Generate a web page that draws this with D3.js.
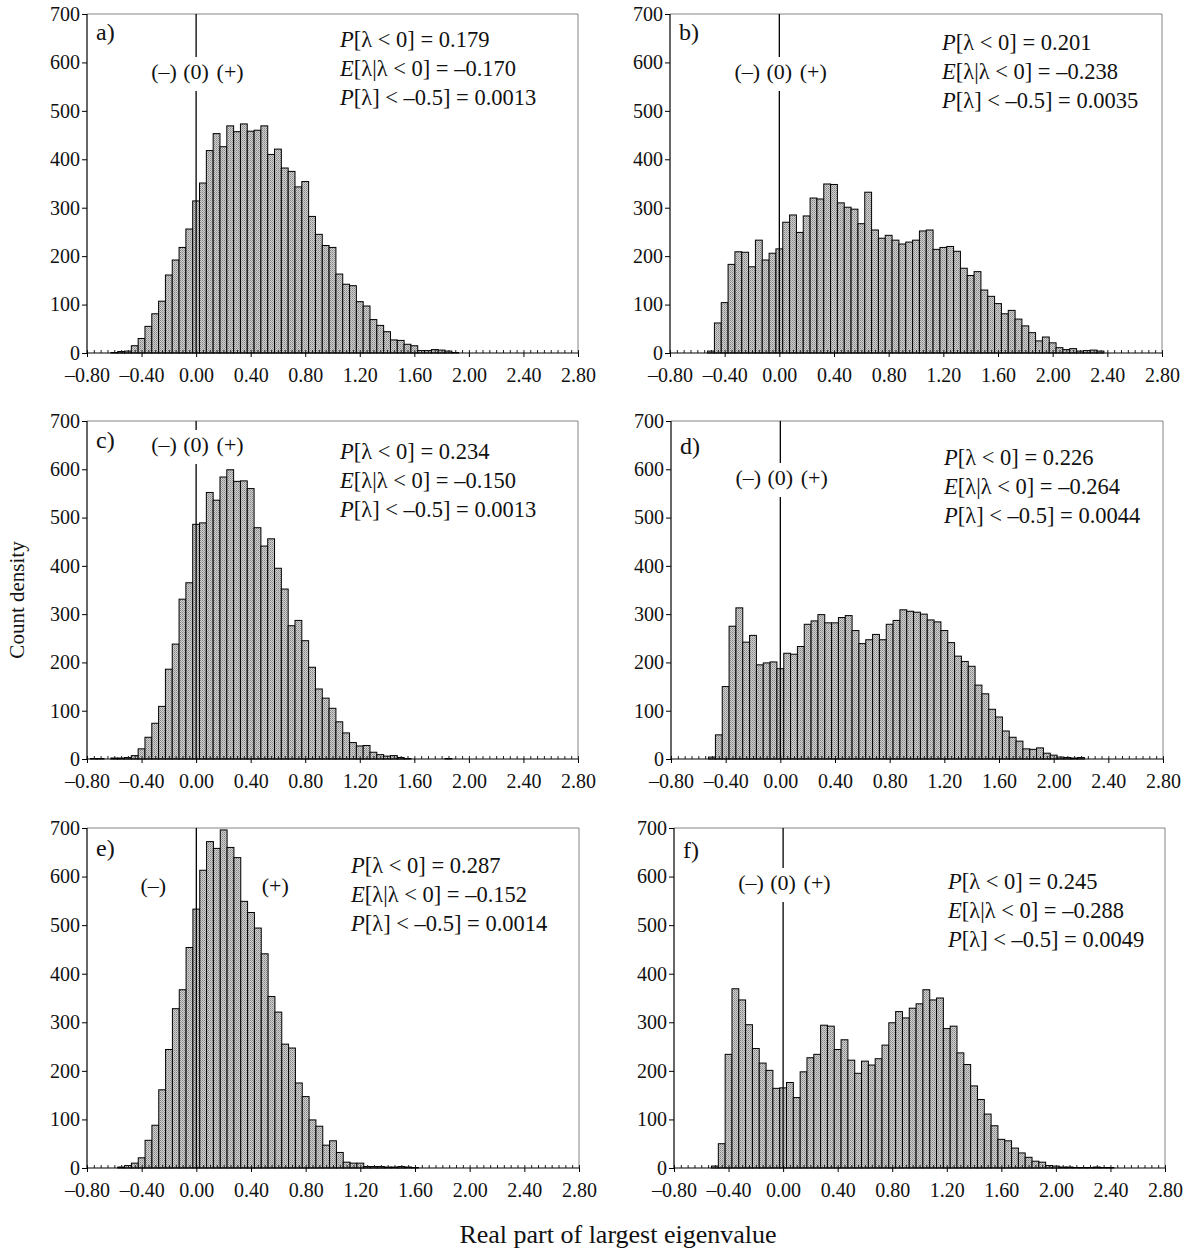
<!DOCTYPE html>
<html>
<head>
<meta charset="utf-8">
<script src="https://cdn.jsdelivr.net/npm/d3@7/dist/d3.min.js"></script>
<style>
body { margin: 0; background: #fff; }
text { font-family: "Liberation Serif", "Times New Roman", serif; fill: #111; }
</style>
</head>
<body>
<svg id="chart" width="1193" height="1249"></svg>
<script>
// bin centres run from -0.80 to 2.80 in steps of 0.05 (73 bins)
var binStart = -0.80, binWidth = 0.05;
var xTickValues = [-0.8, -0.4, 0, 0.4, 0.8, 1.2, 1.6, 2.0, 2.4, 2.8];
var xTickLabels = ['\u20130.80', '\u20130.40', '0.00', '0.40', '0.80', '1.20', '1.60', '2.00', '2.40', '2.80'];
var yTickValues = [0, 100, 200, 300, 400, 500, 600, 700];

var countsA = [0, 0, 0, 0, 1, 3, 4, 15, 30, 55, 81, 107, 161, 192, 218, 256,
    314, 351, 418, 453, 426, 469, 457, 473, 458, 460, 469, 410, 421, 382, 375, 343,
    354, 282, 245, 222, 218, 163, 142, 139, 106, 97, 69, 57, 44, 27, 26, 18,
    15, 5, 5, 7, 6, 4, 1, 0, 0, 0, 0, 0, 0, 0, 0, 0,
    0, 0, 0, 0, 0, 0, 0, 0, 0];
var countsB = [0, 0, 0, 0, 0, 0, 4, 62, 104, 183, 209, 208, 178, 233, 192, 206,
    215, 270, 285, 249, 283, 320, 318, 349, 348, 310, 301, 297, 267, 332, 254, 237,
    243, 233, 225, 229, 233, 252, 254, 214, 218, 220, 210, 175, 160, 168, 130, 117,
    102, 81, 88, 70, 56, 42, 25, 33, 21, 11, 7, 9, 4, 5, 6, 4,
    0, 0, 0, 0, 0, 0, 0, 0, 0];
var countsC = [0, 1, 1, 0, 2, 2, 3, 7, 21, 45, 74, 109, 186, 238, 331, 365,
    486, 489, 552, 536, 584, 599, 575, 576, 560, 479, 441, 456, 395, 352, 276, 287,
    245, 190, 145, 126, 105, 77, 54, 34, 27, 28, 14, 9, 6, 7, 3, 1,
    0, 0, 0, 0, 0, 1, 0, 0, 0, 0, 0, 0, 0, 0, 0, 0,
    0, 0, 0, 0, 0, 0, 0, 0, 0];
var countsD = [0, 0, 0, 0, 0, 0, 4, 50, 150, 275, 313, 242, 256, 195, 199, 201,
    187, 219, 217, 233, 279, 286, 299, 282, 282, 293, 297, 266, 239, 247, 258, 247,
    279, 287, 309, 306, 304, 300, 288, 284, 266, 241, 213, 202, 192, 153, 135, 103,
    87, 58, 45, 37, 21, 20, 23, 12, 8, 4, 3, 2, 3, 0, 0, 0,
    0, 0, 0, 0, 0, 0, 0, 0, 0];
var countsE = [0, 0, 0, 0, 0, 2, 5, 10, 21, 57, 88, 161, 244, 328, 367, 454,
    533, 613, 672, 658, 696, 660, 639, 549, 526, 494, 441, 353, 321, 255, 247, 175,
    147, 99, 86, 47, 56, 32, 12, 10, 10, 3, 3, 3, 2, 2, 3, 2,
    1, 0, 0, 0, 0, 0, 0, 0, 0, 0, 0, 0, 0, 0, 0, 0,
    0, 0, 0, 0, 0, 0, 0, 0, 0];
var countsF = [0, 0, 0, 0, 0, 0, 4, 50, 234, 369, 346, 295, 246, 216, 201, 164,
    165, 176, 145, 198, 227, 234, 294, 292, 244, 264, 222, 195, 220, 212, 225, 253,
    299, 322, 309, 329, 338, 367, 346, 350, 287, 292, 237, 213, 169, 141, 111, 87,
    59, 56, 41, 31, 22, 14, 12, 5, 4, 2, 2, 1, 1, 1, 2, 1,
    1, 0, 0, 0, 0, 0, 0, 0, 0];

var panelLetters = ['a)', 'b)', 'c)', 'd)', 'e)', 'f)'];
var probNeg = ['0.179', '0.201', '0.234', '0.226', '0.287', '0.245'];
var expNeg = ['\u20130.170', '\u20130.238', '\u20130.150', '\u20130.264', '\u20130.152', '\u20130.288'];
var probBelow = ['0.0013', '0.0035', '0.0013', '0.0044', '0.0014', '0.0049'];
var allCounts = [countsA, countsB, countsC, countsD, countsE, countsF];

// where each panel sits on the page
var layout = [
    { left : 87, right : 578, top : 14, bottom : 353, statsX : 340, statsY : 47, signY : 72, zeroLabel : true, letterY : 40 },
    { left : 670, right : 1162, top : 14, bottom : 353, statsX : 942, statsY : 50, signY : 72, zeroLabel : true, letterY : 40 },
    { left : 87, right : 578, top : 421, bottom : 759, statsX : 340, statsY : 459, signY : 445, zeroLabel : true, letterY : 448 },
    { left : 671, right : 1163, top : 421, bottom : 759, statsX : 944, statsY : 465, signY : 478, zeroLabel : true, letterY : 454 },
    { left : 87, right : 579, top : 828, bottom : 1168, statsX : 351, statsY : 873, signY : 886, zeroLabel : false, letterY : 856 },
    { left : 674, right : 1165, top : 828, bottom : 1168, statsX : 948, statsY : 889, signY : 883, zeroLabel : true, letterY : 858 }
];

var svg = d3.select('#chart');

var defs = svg.append('defs');
var pat = defs.append('pattern').attr('id', 'stipple').attr('patternUnits', 'userSpaceOnUse')
    .attr('width', 2).attr('height', 2);
pat.append('rect').attr('width', 2).attr('height', 2).attr('fill', '#d0d0d0');
pat.append('rect').attr('width', 1).attr('height', 1).attr('fill', '#858585');
pat.append('rect').attr('x', 1).attr('y', 1).attr('width', 1).attr('height', 1).attr('fill', '#a2a2a2');

function drawPanel(i) {
    var p = layout[i];
    var counts = allCounts[i];
    var x = d3.scaleLinear().domain([-0.8, 2.8]).range([p.left, p.right]);
    var y = d3.scaleLinear().domain([0, 700]).range([p.bottom, p.top]);
    var g = svg.append('g');

    var bins = counts.map(function(v, k) {
        return { c : binStart + binWidth * k, v : v };
    });

    g.selectAll('rect.bar').data(bins.filter(function(d) { return d.v > 0; }))
        .enter().append('rect').attr('class', 'bar')
        .attr('x', function(d) { return x(d.c - binWidth / 2); })
        .attr('width', x(binWidth) - x(0))
        .attr('y', function(d) { return y(d.v); })
        .attr('height', function(d) { return y(0) - y(d.v); })
        .attr('fill', 'url(#stipple)')
        .attr('stroke', '#000').attr('stroke-width', 1);

    // frame: light top / right, dark axes
    g.append('path').attr('d', 'M' + p.left + ',' + p.top + 'H' + p.right + 'V' + p.bottom)
        .attr('fill', 'none').attr('stroke', '#666').attr('stroke-width', 0.8);

    // minor ticks every bin, pointing up into the plot
    var minor = d3.axisBottom(x).tickValues(bins.map(function(d) { return d.c; }))
        .tickSize(-3).tickFormat('');
    var gm = g.append('g').attr('transform', 'translate(0,' + p.bottom + ')').call(minor);
    gm.select('.domain').remove();
    gm.selectAll('line').attr('stroke', '#222');

    var xAxis = d3.axisBottom(x).tickValues(xTickValues).tickSize(4).tickPadding(11)
        .tickFormat(function(d, j) { return xTickLabels[j]; });
    var gx = g.append('g').attr('transform', 'translate(0,' + p.bottom + ')').call(xAxis);
    gx.select('.domain').attr('d', 'M' + p.left + ',0H' + p.right).attr('stroke', '#000').attr('stroke-width', 1.2);
    gx.selectAll('text').attr('font-size', 20).attr('font-family', '"Liberation Serif", serif').attr('fill', '#111');

    var yAxis = d3.axisLeft(y).tickValues(yTickValues).tickSize(5).tickPadding(2);
    var gy = g.append('g').attr('transform', 'translate(' + p.left + ',0)').call(yAxis);
    gy.select('.domain').attr('d', 'M0,' + p.top + 'V' + p.bottom).attr('stroke', '#000').attr('stroke-width', 1.2);
    gy.selectAll('text').attr('font-size', 20).attr('font-family', '"Liberation Serif", serif').attr('fill', '#111');

    // zero line, broken where the (0) label sits
    var x0 = x(0);
    if (p.zeroLabel) {
        g.append('line').attr('x1', x0).attr('x2', x0).attr('y1', p.top).attr('y2', p.signY - 15)
            .attr('stroke', '#000').attr('stroke-width', 1.3);
        g.append('line').attr('x1', x0).attr('x2', x0).attr('y1', p.signY + 19).attr('y2', p.bottom)
            .attr('stroke', '#000').attr('stroke-width', 1.3);
        g.append('text').attr('x', x0 - 32).attr('y', p.signY + 7).attr('text-anchor', 'middle').attr('font-size', 22).text('(\u2013)');
        g.append('text').attr('x', x0).attr('y', p.signY + 7).attr('text-anchor', 'middle').attr('font-size', 22).text('(0)');
        g.append('text').attr('x', x0 + 34).attr('y', p.signY + 7).attr('text-anchor', 'middle').attr('font-size', 22).text('(+)');
    } else {
        g.append('line').attr('x1', x0).attr('x2', x0).attr('y1', p.top).attr('y2', p.bottom)
            .attr('stroke', '#000').attr('stroke-width', 1.3);
        g.append('text').attr('x', x0 - 43).attr('y', p.signY + 7).attr('text-anchor', 'middle').attr('font-size', 22).text('(\u2013)');
        g.append('text').attr('x', x0 + 79).attr('y', p.signY + 7).attr('text-anchor', 'middle').attr('font-size', 22).text('(+)');
    }

    g.append('text').attr('x', p.left + 9).attr('y', p.letterY).attr('font-size', 24).text(panelLetters[i]);

    var lines = [
        ['P', '[\u03bb < 0] = ' + probNeg[i]],
        ['E', '[\u03bb|\u03bb < 0] = ' + expNeg[i]],
        ['P', '[\u03bb] < \u20130.5] = ' + probBelow[i]]
    ];
    lines.forEach(function(l, j) {
        var t = g.append('text').attr('x', p.statsX).attr('y', p.statsY + 29 * j).attr('font-size', 22.5);
        t.append('tspan').attr('font-style', 'italic').text(l[0]);
        t.append('tspan').text(l[1]);
    });
}

for (var i = 0; i < layout.length; i++) {
    drawPanel(i);
}

svg.append('text').attr('transform', 'translate(24,600) rotate(-90)').attr('text-anchor', 'middle')
    .attr('font-size', 21).text('Count density');
svg.append('text').attr('x', 618).attr('y', 1243).attr('text-anchor', 'middle')
    .attr('font-size', 26).text('Real part of largest eigenvalue');
</script>
</body>
</html>
